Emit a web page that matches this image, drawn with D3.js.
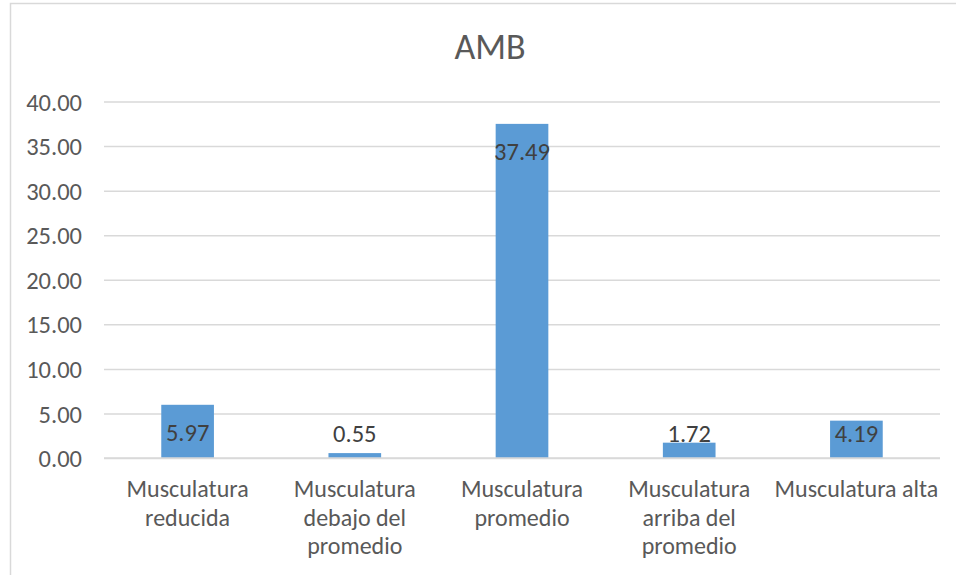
<!DOCTYPE html>
<html>
<head>
<meta charset="utf-8">
<script src="https://cdn.jsdelivr.net/npm/d3@7"></script>
<style>
  html, body { margin: 0; padding: 0; background: #fff; }
  svg { display: block; }
  text { font-family: Carlito, Lato, "Open Sans", sans-serif; }
</style>
</head>
<body>
<svg id="chart" width="956" height="575"></svg>
<script>
// Chart data
const title = "AMB";
const categories = [
  "Musculatura reducida",
  "Musculatura debajo del promedio",
  "Musculatura promedio",
  "Musculatura arriba del promedio",
  "Musculatura alta"
];
// Category labels as they wrap under the axis
const categoryLines = [
  ["Musculatura", "reducida"],
  ["Musculatura", "debajo del", "promedio"],
  ["Musculatura", "promedio"],
  ["Musculatura", "arriba del", "promedio"],
  ["Musculatura alta"]
];
const values = [5.97, 0.55, 37.49, 1.72, 4.19];
const yTicks = [0, 5, 10, 15, 20, 25, 30, 35, 40];

const svg = d3.select("#chart");
const W = 956, H = 575;
const plot = { left: 104, right: 940, top: 101.5, bottom: 458 };

// Chart frame
svg.append("rect")
  .attr("x", 10.5).attr("y", 3.5)
  .attr("width", W + 20).attr("height", H + 20)
  .attr("fill", "#fff")
  .attr("stroke", "#d9d9d9").attr("stroke-width", 1.5);

// Title
svg.append("text")
  .attr("x", 490).attr("y", 59)
  .attr("text-anchor", "middle")
  .attr("font-size", 36)
  .attr("fill", "#595959")
  .text(title);

const x = d3.scaleBand()
  .domain(categories)
  .range([plot.left, plot.right])
  .paddingInner(0.685)
  .paddingOuter(0.3425);

const y = d3.scaleLinear()
  .domain([0, 40])
  .range([plot.bottom, plot.top]);

// Gridlines and value axis labels
const yAxis = d3.axisLeft(y)
  .tickValues(yTicks)
  .tickSize(-(plot.right - plot.left))
  .tickPadding(22)
  .tickFormat(d3.format(".2f"));

const gy = svg.append("g")
  .attr("transform", `translate(${plot.left},0)`)
  .call(yAxis);
gy.select(".domain").remove();
gy.selectAll(".tick line")
  .attr("stroke", "#d9d9d9")
  .attr("stroke-width", 1.5);
gy.selectAll(".tick text")
  .attr("fill", "#595959")
  .attr("font-size", 24.5)
  .attr("dy", "0.35em");

// Bars
svg.append("g").selectAll("rect")
  .data(values)
  .join("rect")
  .attr("x", (d, i) => x(categories[i]))
  .attr("y", d => y(d))
  .attr("width", x.bandwidth())
  .attr("height", d => y(0) - y(d))
  .attr("fill", "#5b9bd5");

// Category axis line
svg.append("line")
  .attr("x1", plot.left).attr("x2", plot.right)
  .attr("y1", y(0)).attr("y2", y(0))
  .attr("stroke", "#d9d9d9").attr("stroke-width", 1.5);

// Data labels (inside end, kept above the axis)
svg.append("g").selectAll("text")
  .data(values)
  .join("text")
  .attr("x", (d, i) => x(categories[i]) + x.bandwidth() / 2)
  .attr("y", d => Math.min(y(d) + 28, y(0) - 25))
  .attr("dy", "0.35em")
  .attr("text-anchor", "middle")
  .attr("font-size", 24.5)
  .attr("fill", "#404040")
  .text(d => d.toFixed(2));

// Category labels
const gx = svg.append("g");
categoryLines.forEach((lines, i) => {
  const cx = x(categories[i]) + x.bandwidth() / 2;
  const t = gx.append("text")
    .attr("x", cx)
    .attr("text-anchor", "middle")
    .attr("font-size", 24)
    .attr("fill", "#595959");
  lines.forEach((ln, j) => {
    t.append("tspan")
      .attr("x", cx)
      .attr("y", 497 + j * 28.5)
      .text(ln);
  });
});
</script>
</body>
</html>
